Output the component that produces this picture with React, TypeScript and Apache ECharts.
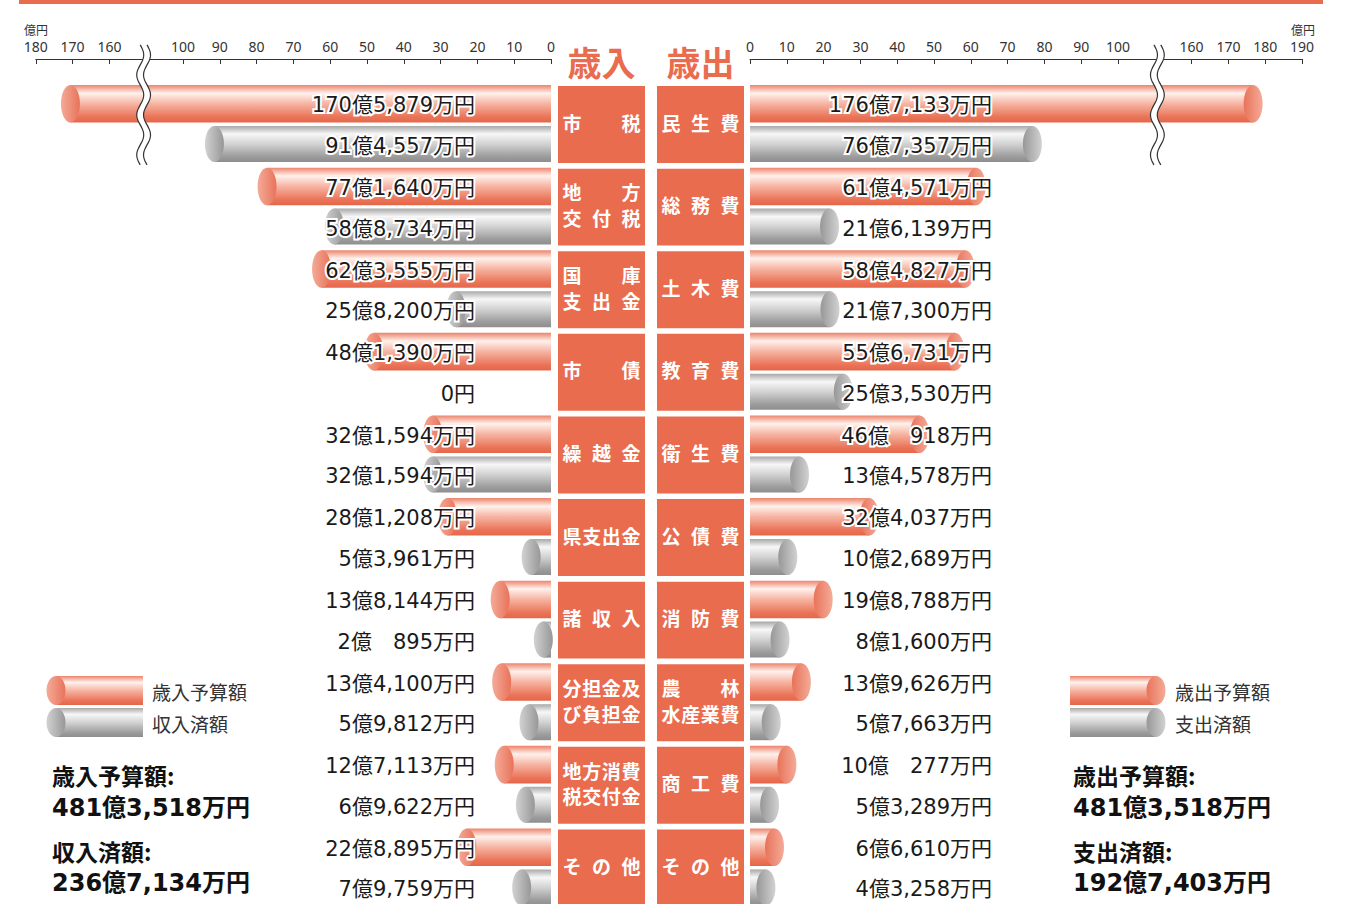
import React, { useEffect, useRef } from "react";
import * as echarts from "echarts";

// ---- data (values in 万円) ----
const revenueCategories = ["市税", "地方\n交付税", "国庫\n支出金", "市債", "繰越金", "県支出金", "諸収入", "分担金及\nび負担金", "地方消費\n税交付金", "その他"];
const revenueBudget = [1705879, 771640, 623555, 481390, 321594, 281208, 138144, 134100, 127113, 228895];
const revenueActual = [914557, 588734, 258200, 0, 321594, 53961, 20895, 59812, 69622, 79759];

const expenditureCategories = ["民生費", "総務費", "土木費", "教育費", "衛生費", "公債費", "消防費", "農林\n水産業費", "商工費", "その他"];
const expenditureBudget = [1767133, 614571, 584827, 556731, 460918, 324037, 198788, 139626, 100277, 66610];
const expenditureActual = [767357, 216139, 217300, 253530, 134578, 102689, 81600, 57663, 53289, 43258];

const leftTickValues = [0, 10, 20, 30, 40, 50, 60, 70, 80, 90, 100, 160, 170, 180];
const rightTickValues = [0, 10, 20, 30, 40, 50, 60, 70, 80, 90, 100, 160, 170, 180, 190];
const axisUnit = "億円";
const revenueTitle = "歳入";
const expenditureTitle = "歳出";
const revenueLegend = ["歳入予算額", "収入済額"];
const expenditureLegend = ["歳出予算額", "支出済額"];

// ---- broken axis: 100..160 compressed to a 20-unit gap ----
const BREAK_START = 100;
const BREAK_END = 160;
const BREAK_KEEP = 20;
const SHIFT = BREAK_END - BREAK_START - BREAK_KEEP;
const toAxis = (oku: number) => (oku <= BREAK_START ? oku : oku - SHIFT);
const fromAxis = (a: number) => Math.round(a <= BREAK_START ? a : a + SHIFT);
const BREAK_POS = 110.7;

function formatYen(man: number): string {
  if (man === 0) return "0円";
  const oku = Math.floor(man / 10000);
  const rest = man % 10000;
  let s = oku > 0 ? oku + "億" : "";
  if (rest > 0) {
    if (rest >= 1000) s += Math.floor(rest / 1000) + "," + String(rest % 1000).padStart(3, "0");
    else s += (oku > 0 ? "\u3000" : "") + rest;
  }
  return s + "万円";
}
const sum = (a: number[]) => a.reduce((p, c) => p + c, 0);

// ---- layout / style ----
const ORANGE = "#e96c4f";
const SCALE = 3.68;
const ZERO_L = 551;
const ZERO_R = 750;
const LEFT_MAX = toAxis(180);
const RIGHT_MAX = toAxis(190);
const GRID_TOP = 83.3;
const ROW_H = 82.6;
const H = 904;
const Y_MAX = -0.5 + (H - GRID_TOP) / ROW_H;
const LABEL_FONT = "'DejaVu Sans', 'Noto Sans CJK JP', sans-serif";
const CJK_FONT = "'Noto Sans CJK JP', sans-serif";

const bodyGrad = (kind: string) =>
  new echarts.graphic.LinearGradient(0, 0, 0, 1,
    kind === "B"
      ? [
          { offset: 0, color: "#ec846c" },
          { offset: 0.22, color: "#fff1ec" },
          { offset: 0.5, color: "#f6b4a2" },
          { offset: 0.85, color: "#ea7458" },
          { offset: 1, color: "#e5664a" },
        ]
      : [
          { offset: 0, color: "#a8a8a8" },
          { offset: 0.22, color: "#f7f7f7" },
          { offset: 0.5, color: "#d2d2d2" },
          { offset: 0.85, color: "#9c9c9c" },
          { offset: 1, color: "#8e8e8e" },
        ]);
const capGrad = (kind: string, outerLeft: boolean) => {
  const outer = kind === "B" ? "#f4ab98" : "#d2d2d2";
  const inner = kind === "B" ? "#e8735a" : "#979797";
  return new echarts.graphic.LinearGradient(0, 0, 1, 0, [
    { offset: 0, color: outerLeft ? outer : inner },
    { offset: 1, color: outerLeft ? inner : outer },
  ]);
};

const makeCylinder = (side: string, kind: string) => (params: any, api: any) => {
  const a = api.value(0);
  const row = api.value(1);
  const raw = api.value(2);
  const band = api.size([0, 1])[1];
  const p0 = api.coord([0, row]);
  const p1 = api.coord([a, row]);
  const top = kind === "B" ? p0[1] - band * 0.479 : p0[1] + band * 0.017;
  const h = kind === "B" ? band * 0.455 : band * 0.436;
  const mid = top + h / 2;
  const children: any[] = [];
  if (raw > 0) {
    children.push({
      type: "rect",
      shape: { x: Math.min(p0[0], p1[0]), y: top, width: Math.abs(p1[0] - p0[0]), height: h },
      style: { fill: bodyGrad(kind) },
    });
    children.push({
      type: "ellipse",
      shape: { cx: p1[0], cy: mid, rx: 9.5, ry: h / 2 },
      style: { fill: capGrad(kind, side === "L") },
    });
  }
  children.push({
    type: "text",
    x: side === "L" ? p0[0] - 76 : p0[0] + 242,
    y: mid + (kind === "B" ? 1.5 : 2),
    style: {
      text: formatYen(raw),
      align: "right",
      verticalAlign: "middle",
      fontSize: 21,
      fontFamily: LABEL_FONT,
      fill: "#1a1a1a",
      stroke: "#ffffff",
      lineWidth: 4,
    },
  });
  return { type: "group", children };
};

const makeBoxes = (side: string, names: string[]) => (params: any, api: any) => {
  const row = api.value(1);
  const band = api.size([0, 1])[1];
  const p0 = api.coord([0, row]);
  const bw = 87;
  const bx = side === "L" ? p0[0] + 7 : p0[0] - 6 - bw;
  const by = p0[1] - band * 0.467;
  const bh = band * 0.932;
  const children: any[] = [
    { type: "rect", shape: { x: bx, y: by, width: bw, height: bh }, style: { fill: ORANGE } },
  ];
  const lines = names[params.dataIndex].split("\n");
  const fs = 19;
  const pad = 4.5;
  const inner = bw - 2 * pad;
  lines.forEach((line, li) => {
    const ly = p0[1] - 2.5 + (li - (lines.length - 1) / 2) * 25.5;
    const chars = Array.from(line);
    const step = chars.length > 1 ? (inner - fs) / (chars.length - 1) : 0;
    chars.forEach((ch, ci) => {
      children.push({
        type: "text",
        x: bx + pad + ci * step + (chars.length > 1 ? 0 : (inner - fs) / 2),
        y: ly,
        style: {
          text: ch,
          fontSize: fs,
          fontWeight: "bold",
          fontFamily: CJK_FONT,
          fill: "#ffffff",
          align: "left",
          verticalAlign: "middle",
        },
      });
    });
  });
  return { type: "group", children };
};

const renderBreak = (params: any, api: any) => {
  const band = api.size([0, 1])[1];
  const p = api.coord([api.value(0), 0]);
  const yTop = p[1] - band * 0.965;
  const yBot = p[1] + band * 0.49;
  const A = 3.5;
  const P = 40;
  const half = 3.4;
  const left: number[][] = [];
  const right: number[][] = [];
  for (let y = yTop; y <= yBot + 0.01; y += 2) {
    const dx = A * Math.sin((2 * Math.PI * (y - yTop)) / P);
    left.push([p[0] - half + dx, y]);
    right.push([p[0] + half + dx, y]);
  }
  return {
    type: "group",
    children: [
      { type: "polygon", shape: { points: left.concat(right.slice().reverse()) }, style: { fill: "#ffffff" } },
      { type: "polyline", shape: { points: left }, style: { stroke: "#333", lineWidth: 1.2, fill: null } },
      { type: "polyline", shape: { points: right }, style: { stroke: "#333", lineWidth: 1.2, fill: null } },
    ],
  };
};

const xAxisFor = (gridIndex: number, max: number, ticks: number[], inverse: boolean) => ({
  type: "value",
  gridIndex,
  min: 0,
  max,
  inverse,
  position: "top",
  offset: GRID_TOP - 59,
  axisLine: { show: true, onZero: false, lineStyle: { color: "#333", width: 1 } },
  axisTick: { show: true, inside: true, length: 5, customValues: ticks.map(toAxis), lineStyle: { color: "#333", width: 1 } },
  axisLabel: {
    show: true,
    customValues: ticks.map(toAxis),
    formatter: (v: number) => String(fromAxis(v)),
    fontSize: 14,
    color: "#333",
    fontFamily: "'Noto Sans', sans-serif",
    margin: 6,
  },
  splitLine: { show: false },
});

const legendItem = (x0: number, x1: number, y: number, kind: string, capLeft: boolean) => [
  {
    type: "rect",
    shape: { x: x0, y, width: x1 - x0, height: 29 },
    style: { fill: bodyGrad(kind) },
  },
  {
    type: "ellipse",
    shape: { cx: capLeft ? x0 : x1, cy: y + 14.5, rx: 9.5, ry: 14.5 },
    style: { fill: capGrad(kind, capLeft) },
  },
];

const txt = (x: number, y: number, text: string, fontSize: number, extra: any = {}) => ({
  type: "text",
  x,
  y,
  style: {
    text,
    fontSize,
    fontFamily: extra.fontFamily || CJK_FONT,
    fontWeight: extra.fontWeight || "normal",
    fill: extra.fill || "#333",
    align: extra.align || "left",
    verticalAlign: "middle",
  },
});

export default function App() {
  const ref = useRef<HTMLDivElement>(null);
  useEffect(() => {
    if (!ref.current) return;
    const chart = echarts.init(ref.current, null, { renderer: "svg" });
    const sumFont = { fontWeight: "bold", fontFamily: LABEL_FONT, fill: "#111" };
    const option: any = {
      animation: false,
      grid: [
        { left: ZERO_L - LEFT_MAX * SCALE, top: GRID_TOP, width: LEFT_MAX * SCALE, height: H - GRID_TOP },
        { left: ZERO_R, top: GRID_TOP, width: RIGHT_MAX * SCALE, height: H - GRID_TOP },
      ],
      xAxis: [
        xAxisFor(0, LEFT_MAX, leftTickValues, true),
        xAxisFor(1, RIGHT_MAX, rightTickValues, false),
      ],
      yAxis: [
        { type: "value", gridIndex: 0, min: -0.5, max: Y_MAX, inverse: true, show: false },
        { type: "value", gridIndex: 1, min: -0.5, max: Y_MAX, inverse: true, show: false },
      ],
      series: [
        {
          type: "custom", xAxisIndex: 0, yAxisIndex: 0, z: 3,
          data: revenueBudget.map((v, i) => [toAxis(v / 10000), i, v]),
          renderItem: makeCylinder("L", "B"),
        },
        {
          type: "custom", xAxisIndex: 0, yAxisIndex: 0, z: 3,
          data: revenueActual.map((v, i) => [toAxis(v / 10000), i, v]),
          renderItem: makeCylinder("L", "A"),
        },
        {
          type: "custom", xAxisIndex: 1, yAxisIndex: 1, z: 3,
          data: expenditureBudget.map((v, i) => [toAxis(v / 10000), i, v]),
          renderItem: makeCylinder("R", "B"),
        },
        {
          type: "custom", xAxisIndex: 1, yAxisIndex: 1, z: 3,
          data: expenditureActual.map((v, i) => [toAxis(v / 10000), i, v]),
          renderItem: makeCylinder("R", "A"),
        },
        {
          type: "custom", xAxisIndex: 0, yAxisIndex: 0, z: 3,
          data: revenueCategories.map((_, i) => [0, i]),
          renderItem: makeBoxes("L", revenueCategories),
        },
        {
          type: "custom", xAxisIndex: 1, yAxisIndex: 1, z: 3,
          data: expenditureCategories.map((_, i) => [0, i]),
          renderItem: makeBoxes("R", expenditureCategories),
        },
        {
          type: "custom", xAxisIndex: 0, yAxisIndex: 0, z: 6,
          data: [[BREAK_POS, 0]],
          renderItem: renderBreak,
        },
        {
          type: "custom", xAxisIndex: 1, yAxisIndex: 1, z: 6,
          data: [[BREAK_POS, 0]],
          renderItem: renderBreak,
        },
      ],
      graphic: [
        { type: "rect", shape: { x: 19, y: 0, width: 1304, height: 4 }, style: { fill: ORANGE } },
        txt(601.5, 61, revenueTitle, 34, { fontWeight: "bold", fill: ORANGE, align: "center" }),
        txt(700.5, 61, expenditureTitle, 34, { fontWeight: "bold", fill: ORANGE, align: "center" }),
        txt(24, 29, axisUnit, 12),
        txt(1315, 29, axisUnit, 12, { align: "right" }),
        ...legendItem(56, 143, 676, "B", true),
        ...legendItem(56, 143, 708, "A", true),
        txt(152, 691, revenueLegend[0], 19),
        txt(152, 723, revenueLegend[1], 19),
        ...legendItem(1070, 1156, 676, "B", false),
        ...legendItem(1070, 1156, 708, "A", false),
        txt(1175, 691, expenditureLegend[0], 19),
        txt(1175, 723, expenditureLegend[1], 19),
        txt(52, 775, revenueLegend[0] + ":", 23, { fontWeight: "bold", fill: "#111" }),
        txt(52, 808, formatYen(sum(revenueBudget)), 24, sumFont),
        txt(52, 851, revenueLegend[1] + ":", 23, { fontWeight: "bold", fill: "#111" }),
        txt(52, 883, formatYen(sum(revenueActual)), 24, sumFont),
        txt(1073, 775, expenditureLegend[0] + ":", 23, { fontWeight: "bold", fill: "#111" }),
        txt(1073, 808, formatYen(sum(expenditureBudget)), 24, sumFont),
        txt(1073, 851, expenditureLegend[1] + ":", 23, { fontWeight: "bold", fill: "#111" }),
        txt(1073, 883, formatYen(sum(expenditureActual)), 24, sumFont),
      ],
    };
    chart.setOption(option);
    return () => chart.dispose();
  }, []);
  return (
    <div
      ref={ref}
      style={{ position: "absolute", left: 0, top: 0, width: 1355, height: 904, background: "#fff" }}
    />
  );
}
